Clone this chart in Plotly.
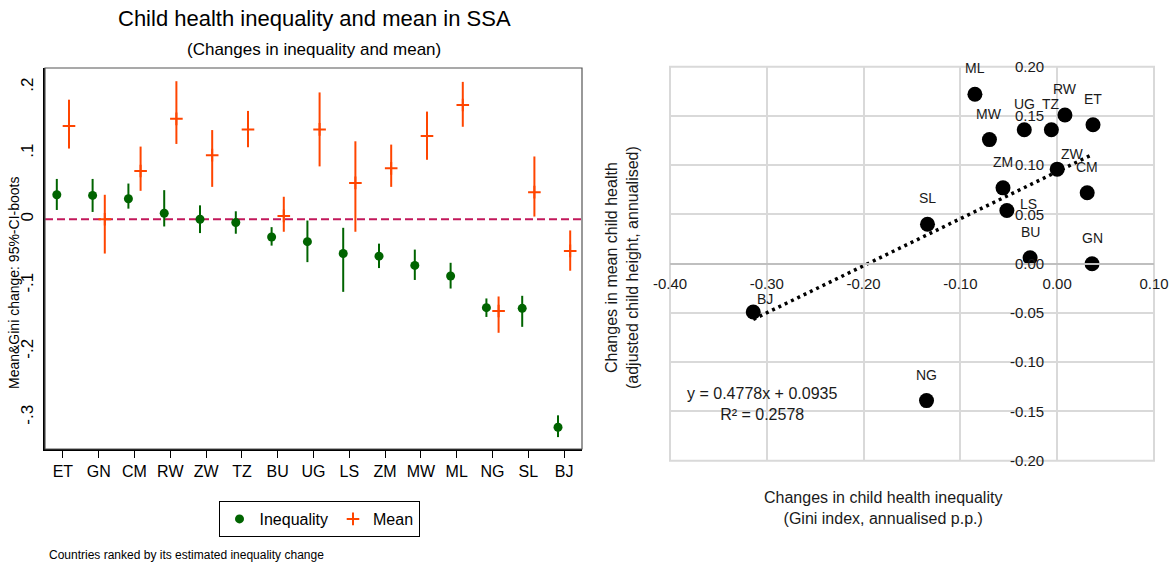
import numpy as np
import plotly.graph_objects as go

W, H = 1172, 563

# ---------------- Left panel data (ranked by inequality change) ----------------
countries = ["ET", "GN", "CM", "RW", "ZW", "TZ", "BU", "UG", "LS", "ZM", "MW", "ML", "NG", "SL", "BJ"]
ineq = [0.037, 0.036, 0.031, 0.009, 0.000, -0.005, -0.027, -0.034, -0.052, -0.056, -0.070, -0.086, -0.134, -0.135, -0.315]
ineq_lo = [0.014, 0.011, 0.016, -0.011, -0.021, -0.022, -0.040, -0.065, -0.110, -0.074, -0.092, -0.105, -0.148, -0.163, -0.330]
ineq_hi = [0.061, 0.061, 0.054, 0.044, 0.021, 0.012, -0.012, -0.002, -0.013, -0.037, -0.046, -0.066, -0.120, -0.116, -0.297]
mean = [0.141, 0.000, 0.073, 0.152, 0.097, 0.136, 0.005, 0.136, 0.055, 0.077, 0.126, 0.173, -0.139, 0.041, -0.048]
mean_lo = [0.107, -0.052, 0.043, 0.114, 0.049, 0.109, -0.019, 0.080, -0.019, 0.049, 0.090, 0.140, -0.172, 0.004, -0.078]
mean_hi = [0.181, 0.037, 0.110, 0.209, 0.135, 0.164, 0.034, 0.192, 0.118, 0.113, 0.163, 0.208, -0.117, 0.095, -0.017]

left_ytick_vals = [0.2, 0.1, 0.0, -0.1, -0.2, -0.3]
left_ytick_text = [".2", ".1", "0", "-.1", "-.2", "-.3"]

# ---------------- Right panel data ----------------
sc_labels = ["ML", "MW", "UG", "TZ", "RW", "ET", "ZW", "CM", "ZM", "LS", "SL", "BU", "GN", "BJ", "NG"]
sc_x = [-0.085, -0.070, -0.034, -0.006, 0.008, 0.037, 0.000, 0.031, -0.056, -0.052, -0.134, -0.028, 0.036, -0.314, -0.135]
sc_y = [0.172, 0.126, 0.136, 0.136, 0.151, 0.141, 0.096, 0.072, 0.077, 0.054, 0.040, 0.006, 0.000, -0.049, -0.139]
trend_slope = 0.4778
trend_intercept = 0.0935
r_squared = 0.2578

right_xtick_vals = [-0.4, -0.3, -0.2, -0.1, 0.0, 0.1]
right_xtick_text = ["-0.40", "-0.30", "-0.20", "-0.10", "0.00", "0.10"]
right_ytick_vals = [-0.2, -0.15, -0.1, -0.05, 0.0, 0.05, 0.1, 0.15, 0.2]
right_ytick_text = ["-0.20", "-0.15", "-0.10", "-0.05", "0.00", "0.05", "0.10", "0.15", "0.20"]

# label offsets in pixels (style)
label_shift = {"ZW": (15, 15), "LS": (22, 7), "BJ": (12, 13)}


def px(x):
    return x / W


def py(y):
    return 1 - y / H


FONT = "Liberation Sans, Arial, sans-serif"
GREEN = "#006400"
ORANGE = "#ff4500"

pos = np.arange(1, len(countries) + 1)
ineq_a, ineq_lo_a, ineq_hi_a = map(np.array, (ineq, ineq_lo, ineq_hi))
mean_a, mean_lo_a, mean_hi_a = map(np.array, (mean, mean_lo, mean_hi))

fig = go.Figure()

fig.add_trace(go.Scatter(
    x=pos - 0.17, y=ineq_a, mode="markers", name="Inequality",
    marker=dict(color=GREEN, size=9),
    error_y=dict(type="data", symmetric=False, array=ineq_hi_a - ineq_a,
                 arrayminus=ineq_a - ineq_lo_a, width=0, thickness=2, color=GREEN),
    xaxis="x", yaxis="y", showlegend=True,
))
fig.add_trace(go.Scatter(
    x=pos + 0.17, y=mean_a, mode="markers", name="Mean",
    marker=dict(color=ORANGE, size=9, symbol="cross-thin", line=dict(color=ORANGE, width=2)),
    error_y=dict(type="data", symmetric=False, array=mean_hi_a - mean_a,
                 arrayminus=mean_a - mean_lo_a, width=0, thickness=2, color=ORANGE),
    xaxis="x", yaxis="y", showlegend=True,
))

# right scatter
sx = np.array(sc_x)
sy = np.array(sc_y)
fig.add_trace(go.Scatter(
    x=sx, y=sy, mode="markers", marker=dict(color="black", size=15),
    xaxis="x2", yaxis="y2", showlegend=False,
))
tx = np.array([sx.min(), sx.max()])
fig.add_trace(go.Scatter(
    x=tx, y=trend_slope * tx + trend_intercept, mode="lines",
    line=dict(color="black", width=3.5, dash="3px,4px"),
    xaxis="x2", yaxis="y2", showlegend=False,
))

annotations = []
for lab, x, y in zip(sc_labels, sc_x, sc_y):
    dx, dy = label_shift.get(lab, (0, 26))
    annotations.append(dict(x=x, y=y, xref="x2", yref="y2", text=lab, showarrow=False,
                            xanchor="center", yanchor="middle",
                            xshift=dx, yshift=dy, font=dict(family=FONT, size=14, color="#1a1a1a")))


def paper_text(x, y, text, size, color="black", angle=0, xanchor="center"):
    return dict(x=px(x), y=py(y), xref="paper", yref="paper", text=text, showarrow=False,
                xanchor=xanchor, yanchor="middle", textangle=angle,
                font=dict(family=FONT, size=size, color=color))


annotations += [
    paper_text(314, 18, "Child health inequality and mean in SSA", 22),
    paper_text(314, 49, "(Changes in inequality and mean)", 17),
    paper_text(14, 283, "Mean&Gini change: 95%-CI-boots", 14, angle=-90),
    paper_text(47, 555, "Countries ranked by its estimated inequality change", 12, xanchor="left"),
    paper_text(762, 404, f"y = {trend_slope}x + {trend_intercept}<br>R² = {r_squared}", 16, "#1a1a1a"),
    paper_text(883, 508, "Changes in child health inequality<br>(Gini index, annualised p.p.)", 16, "#1a1a1a"),
    paper_text(622, 268, "Changes in mean child health<br>(adjusted child height, annualised)", 16, "#1a1a1a", angle=-90),
]

shapes = [
    dict(type="line", xref="x domain", yref="y", x0=0, x1=1, y0=0, y1=0,
         line=dict(color="#c2185b", width=2, dash="8px,4px"), layer="below"),
    dict(type="rect", xref="x domain", yref="y domain", x0=0, x1=1, y0=0, y1=1,
         line=dict(color="#555555", width=1.2)),
    dict(type="rect", xref="x2 domain", yref="y2 domain", x0=0, x1=1, y0=0, y1=1,
         line=dict(color="#d9d9d9", width=2), layer="below"),
]

L_dom_x = [px(45), px(582)]
L_dom_y = [py(449), py(68)]
R_dom_x = [px(670), px(1154)]
R_dom_y = [py(460.7), py(66.7)]

fig.update_layout(
    width=W, height=H,
    margin=dict(l=0, r=0, t=0, b=0, autoexpand=False),
    paper_bgcolor="white", plot_bgcolor="white",
    font=dict(family=FONT, color="black"),
    xaxis=dict(domain=L_dom_x, anchor="y", range=[0.5, 15.5], tickvals=pos, ticktext=countries,
               ticks="outside", ticklen=7, tickcolor="black", tickwidth=1,
               showline=True, linecolor="black", linewidth=1.5, showgrid=False, zeroline=False,
               tickfont=dict(size=16, color="black")),
    yaxis=dict(domain=L_dom_y, anchor="x", range=[-0.348, 0.229], tickvals=left_ytick_vals,
               ticktext=left_ytick_text, tickangle=-90, ticks="", ticklabelstandoff=3,
               showline=True, linecolor="black", linewidth=1.5, showgrid=False, zeroline=False,
               tickfont=dict(size=17, color="black")),
    xaxis2=dict(domain=R_dom_x, anchor="free", position=(R_dom_y[0] + R_dom_y[1]) / 2,
                range=[-0.4, 0.1], tickvals=right_xtick_vals, ticktext=right_xtick_text,
                ticks="outside", ticklen=6, tickcolor="rgba(0,0,0,0)",
                showgrid=True, gridcolor="#d9d9d9", gridwidth=2, zeroline=False,
                showline=True, linecolor="#bfbfbf", linewidth=2,
                tickfont=dict(size=15, color="#1a1a1a")),
    yaxis2=dict(domain=R_dom_y, anchor="free", position=R_dom_x[0] + 0.8 * (R_dom_x[1] - R_dom_x[0]),
                range=[-0.2, 0.2], tickvals=right_ytick_vals, ticktext=right_ytick_text,
                ticks="outside", ticklen=10, tickcolor="rgba(0,0,0,0)",
                showgrid=True, gridcolor="#d9d9d9", gridwidth=2, zeroline=False,
                showline=False,
                tickfont=dict(size=15, color="#1a1a1a")),
    legend=dict(orientation="h", x=px(319), y=py(519), xanchor="center", yanchor="middle",
                bordercolor="black", borderwidth=1, bgcolor="white",
                font=dict(size=16, color="black", family=FONT)),
    annotations=annotations,
    shapes=shapes,
)

fig.write_html("out.html")
